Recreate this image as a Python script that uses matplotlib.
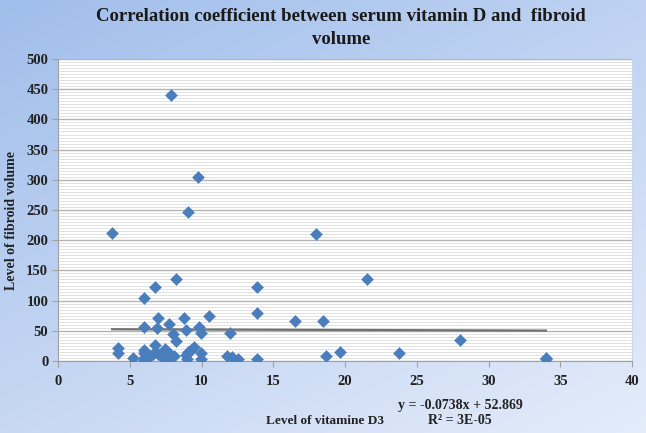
import numpy as np
import matplotlib
matplotlib.use("Agg")
import matplotlib.pyplot as plt
from matplotlib.ticker import MultipleLocator

# ---- data ----
vitamin_d3 = [7.85, 9.75, 9.05, 3.77, 18.0, 8.2, 21.5, 6.75, 13.9, 6.0,
              6.95, 8.8, 10.55, 13.9, 16.5, 18.5, 7.75, 6.0, 6.9, 8.9,
              9.85, 9.95, 12.0, 8.0, 8.2, 28.0, 4.2, 4.2, 6.75, 6.0,
              7.45, 9.45, 9.05, 9.95, 5.2, 6.0, 6.0, 6.4, 7.0, 7.75,
              8.1, 7.8, 9.0, 9.95, 11.8, 12.1, 12.55, 13.9, 18.65, 19.65,
              23.75, 34.0, 34.0, 6.0, 7.2, 6.6, 8.9, 9.3, 7.3]
fibroid_volume = [440, 305, 246, 212, 210, 135, 135, 122, 122, 104,
                  72, 72, 75, 79, 67, 66, 62, 56, 54, 52,
                  57, 46, 46, 45, 33, 35, 22, 13, 27, 19,
                  20, 24, 15, 13, 5, 5, 2, 8, 11, 5,
                  9, 12, 4, 3, 9, 7, 3, 3, 9, 15,
                  14, 5, 3, 13, 9, 12, 10, 18, 6]
slope = -0.0738
intercept = 52.869
title = "Correlation coefficient between serum vitamin D and  fibroid\nvolume"
xlabel = "Level of vitamine D3"
ylabel = "Level of fibroid volume"
eq_text = "y = -0.0738x + 52.869"
r2_text = "R² = 3E-05"

W, H = 646, 433
fig = plt.figure(figsize=(W / 100, H / 100), dpi=100)

# background gradient
bg = fig.add_axes([0, 0, 1, 1], zorder=-10)
bg.set_axis_off()
tl = np.array([160, 190, 235]) / 255
tr = np.array([190, 210, 242]) / 255
bl = np.array([200, 216, 243]) / 255
br = np.array([228, 236, 250]) / 255
u = np.linspace(0, 1, 200)[None, :, None]
v = np.linspace(0, 1, 150)[:, None, None]
img = (1 - v) * ((1 - u) * tl + u * tr) + v * ((1 - u) * bl + u * br)
bg.imshow(img, aspect="auto", extent=[0, 1, 0, 1], origin="upper")
bg.set_xlim(0, 1)
bg.set_ylim(0, 1)

left, right, top, bottom = 58, 632, 59, 361
ax = fig.add_axes([left / W, 1 - bottom / H, (right - left) / W, (bottom - top) / H])
ax.set_facecolor("white")
ax.set_xlim(0, 40)
ax.set_ylim(0, 500)
ax.xaxis.set_major_locator(MultipleLocator(5))
ax.yaxis.set_major_locator(MultipleLocator(50))
ax.yaxis.set_minor_locator(MultipleLocator(5))
ax.grid(True, which="major", axis="y", color="#b4b4b4", lw=1.0, zorder=0)
ax.grid(True, which="minor", axis="y", color="#e2e2e2", lw=0.7, zorder=0)
ax.set_axisbelow(True)
ax.spines["top"].set_visible(False)
ax.spines["right"].set_color("#c9d8ee")
ax.spines["left"].set_color("#a0a0a0")
ax.spines["bottom"].set_color("#a0a0a0")
ax.tick_params(axis="both", which="major", direction="out", length=4, color="#a0a0a0")
ax.tick_params(axis="y", which="minor", length=0)

serif = "Liberation Serif"
for lab in ax.get_xticklabels() + ax.get_yticklabels():
    lab.set_fontfamily(serif)
    lab.set_fontweight("bold")
    lab.set_fontsize(10.5)
    lab.set_color("#222222")
ax.tick_params(axis="x", pad=6)
ax.tick_params(axis="y", pad=3)

# trend line
xs = np.array([min(vitamin_d3), max(vitamin_d3)])
ax.plot(xs, slope * xs + intercept, color="#707070", lw=1.6, zorder=2)

ax.scatter(vitamin_d3, fibroid_volume, marker="D", s=38, color="#4a7dbb",
           edgecolors="#4a7dbb", linewidths=0.3, zorder=3)

fig.text(341 / W, 1 - 28 / H, title, ha="center", va="center", fontfamily=serif,
         fontweight="bold", fontsize=13.5, color="#1a1a1a", linespacing=1.45)
fig.text(12 / W, 1 - 220 / H, ylabel, rotation=90, ha="center", va="center",
         fontfamily=serif, fontweight="bold", fontsize=10, color="#222222")
fig.text(325 / W, 1 - 421 / H, xlabel, ha="center", va="center",
         fontfamily=serif, fontweight="bold", fontsize=9.5, color="#222222")
fig.text(460 / W, 1 - 406 / H, eq_text, ha="center", va="center",
         fontfamily=serif, fontweight="bold", fontsize=10, color="#222222")
fig.text(460 / W, 1 - 421 / H, r2_text, ha="center", va="center",
         fontfamily=serif, fontweight="bold", fontsize=10, color="#222222")

fig.savefig("out.png", dpi=100)
